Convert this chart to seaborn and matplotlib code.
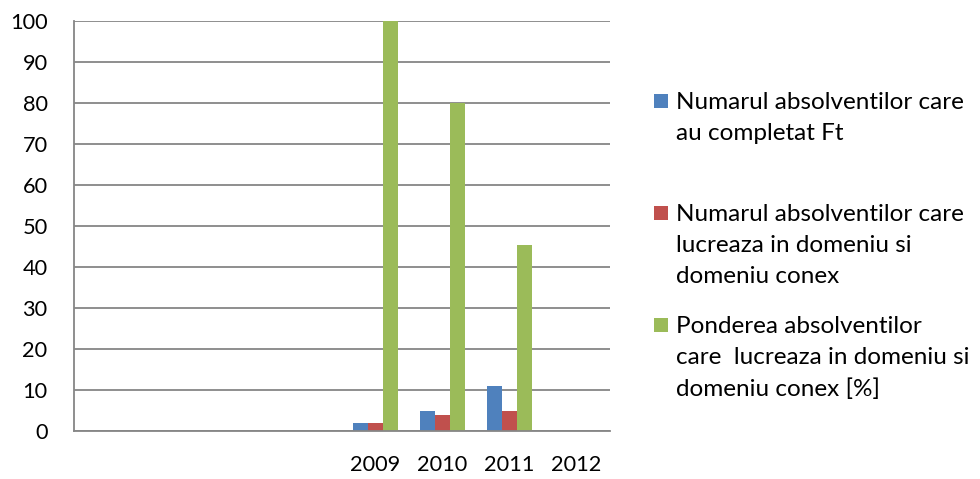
import matplotlib
matplotlib.use("Agg")
import matplotlib.pyplot as plt
import seaborn as sns
import pandas as pd
from matplotlib.patches import Rectangle

# ---- data ----
categories = ["c1", "c2", "c3", "c4", "2009", "2010", "2011", "2012"]
tick_labels = ["", "", "", "", "2009", "2010", "2011", "2012"]
series_names = [
    "Numarul absolventilor care au completat Ft",
    "Numarul absolventilor care lucreaza in domeniu si domeniu conex",
    "Ponderea absolventilor care lucreaza in domeniu si domeniu conex [%]",
]
legend_lines = [
    ["Numarul absolventilor care", "au completat Ft"],
    ["Numarul absolventilor care", "lucreaza in domeniu si", "domeniu conex"],
    ["Ponderea absolventilor", "care  lucreaza in domeniu si", "domeniu conex [%]"],
]
completat_ft = [0, 0, 0, 0, 2, 5, 11, 0]
lucreaza = [0, 0, 0, 0, 2, 4, 5, 0]
pondere = [0, 0, 0, 0, 100, 80, 45.45, 0]
colors = ["#4F81BD", "#C0504D", "#9BBB59"]
y_ticks = [0, 10, 20, 30, 40, 50, 60, 70, 80, 90, 100]

rows = []
for vals, name in zip([completat_ft, lucreaza, pondere], series_names):
    for c, v in zip(categories, vals):
        rows.append({"cat": c, "series": name, "value": v})
df = pd.DataFrame(rows)

sns.set_theme(style="white")
plt.rcParams["font.family"] = ["Lato", "DejaVu Sans"]

W, H = 980, 479
fig = plt.figure(figsize=(W / 100, H / 100), dpi=100)
ax = fig.add_axes([74 / W, 1 - 431 / H, (610 - 74) / W, (431 - 21) / H])

sns.barplot(data=df, x="cat", y="value", hue="series", order=categories,
            hue_order=series_names, palette=colors, width=0.67, gap=0,
            linewidth=0, saturation=1, errorbar=None, legend=False, ax=ax)

ax.set_ylim(0, 100)
ax.set_xlim(-0.5, len(categories) - 0.5)
ax.set_yticks(y_ticks)
ax.set_yticklabels([str(t) for t in y_ticks])
ax.set_xticks(range(len(categories)))
ax.set_xticklabels(tick_labels)
ax.set_xlabel("")
ax.set_ylabel("")
ax.yaxis.grid(True, color="#868686", linewidth=1.3)
ax.set_axisbelow(True)
for s in ["top", "right"]:
    ax.spines[s].set_visible(False)
for s in ["left", "bottom"]:
    ax.spines[s].set_color("#868686")
    ax.spines[s].set_linewidth(1.3)
ax.tick_params(axis="both", length=0, labelsize=15.7, colors="black")
ax.tick_params(axis="y", pad=19)
ax.tick_params(axis="x", pad=17)

# ---- legend (manual, Excel-style: square aligned with first line) ----
baselines = [[109, 140], [221, 252, 283], [333, 364, 396]]
for col, lines, bls in zip(colors, legend_lines, baselines):
    y0 = bls[0]
    fig.add_artist(Rectangle((654 / W, 1 - (y0 - 1) / H), 14 / W, 14 / H,
                             transform=fig.transFigure, facecolor=col,
                             edgecolor="none"))
    for line, b in zip(lines, bls):
        fig.text(676 / W, 1 - b / H, line, fontsize=17.5, color="black",
                 va="baseline", ha="left")

fig.savefig("out.png", dpi=100)
